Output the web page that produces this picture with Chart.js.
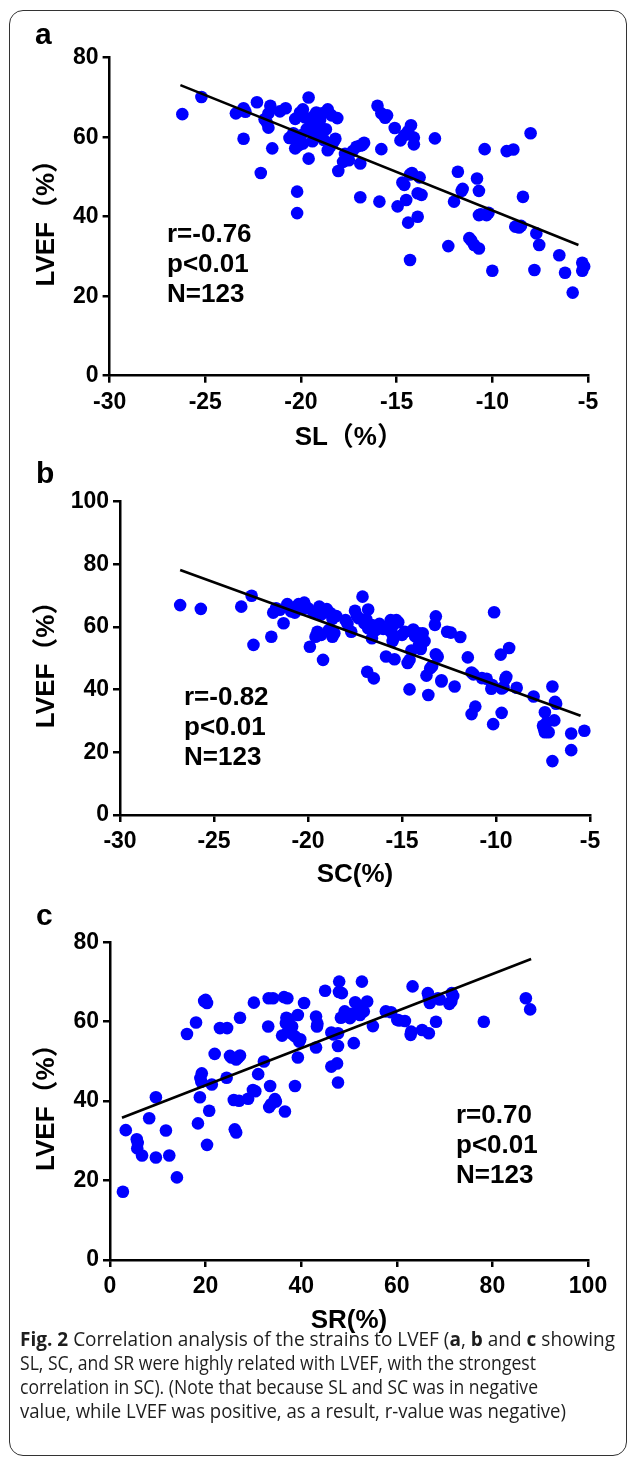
<!DOCTYPE html>
<html>
<head>
<meta charset="utf-8">
<script src="https://cdn.jsdelivr.net/npm/chart.js@4.4.1/dist/chart.umd.min.js"></script>
<style>
  html, body { margin: 0; padding: 0; background: #fff; }
  body { width: 627px; height: 1459px; position: relative; overflow: hidden; }
  canvas { position: absolute; left: 0; }
  #frame { position: absolute; left: 9px; top: 10px; width: 618px; height: 1446px; box-sizing: border-box;
           border: 1.5px solid #333; border-radius: 14px; }
  #caption { position: absolute; left: 20px; top: 1327px; font-family: "Open Sans", "Noto Sans", sans-serif;
             font-size: 20px; line-height: 24px; color: #1e1e1e; white-space: nowrap; }
  #caption div { transform-origin: 0 50%; }
</style>
</head>
<body>
<div id="frame"></div>
<canvas id="ca" width="627" height="460" style="top:0px"></canvas>
<canvas id="cb" width="627" height="440" style="top:460px"></canvas>
<canvas id="cc" width="627" height="452" style="top:890px"></canvas>
<div id="caption">
  <div><b>Fig. 2</b> Correlation analysis of the strains to LVEF (<b>a</b>, <b>b</b> and <b>c</b> showing</div>
  <div>SL, SC, and SR were highly related with LVEF, with the strongest</div>
  <div>correlation in SC). (Note that because SL and SC was in negative</div>
  <div>value, while LVEF was positive, as a result, r-value was negative)</div>
</div>
<script>
// ---------------- DATA ----------------
// Panel a: SL (%) vs LVEF (%)
const slLvef = [
  [-26.2,65.8],[-25.2,70.1],[-23.4,66.0],[-23.0,67.3],[-23.0,59.6],[-22.3,68.8],[-22.1,51.0],[-21.6,67.9],
  [-21.7,66.0],[-21.9,64.5],[-21.7,62.4],[-21.5,57.2],[-20.8,67.3],[-20.3,64.6],[-20.05,66.2],[-20.5,60.1],
  [-20.2,59.3],[-20.3,57.2],[-19.9,58.4],[-20.2,46.3],[-20.2,40.9],[-19.6,70.0],[-19.2,66.2],[-19.5,63.0],
  [-19.0,64.3],[-19.4,61.4],[-18.9,61.5],[-19.6,54.6],[-18.6,67.0],[-18.4,65.5],[-18.1,64.8],[-18.8,59.3],
  [-18.3,58.8],[-18.6,56.7],[-18.05,51.5],[-17.7,55.8],[-17.5,54.2],[-17.1,57.6],[-16.7,58.6],[-16.9,53.4],
  [-16.9,44.9],[-19.3,65.5],[-19.7,62.0],[-20.0,60.5],[-19.3,59.8],[-17.6,55.0],[-16.9,57.9],[-18.5,57.5],
  [-20.6,59.8],[-21.8,63.8],[-19.8,65.0],
  [-16.0,67.9],[-15.8,66.0],[-15.6,64.9],[-15.8,57.0],[-15.9,43.8],[-15.1,62.3],[-14.8,59.2],[-14.25,63.0],
  [-14.6,60.5],[-14.1,59.9],[-14.1,58.2],[-13.0,59.7],[-14.3,50.6],[-13.8,49.9],[-14.7,48.6],[-13.9,45.9],
  [-14.95,42.6],[-14.5,44.2],[-14.4,38.5],[-13.9,40.0],[-14.3,29.1],[-11.8,51.3],[-11.55,47.0],[-12.0,43.8],
  [-10.8,49.6],[-10.7,46.5],[-12.3,32.6],[-11.2,34.6],[-10.95,32.9],[-10.7,32.0],[-10.7,40.4],[-10.3,40.4],
  [-10.4,57.0],[-10.0,26.4],[-9.25,56.5],[-8.9,56.9],[-8.0,61.0],[-8.4,45.0],[-8.8,37.5],[-8.5,37.7],
  [-7.7,35.8],[-7.55,32.9],[-7.8,26.6],[-6.5,30.3],[-6.2,25.9],[-5.8,20.9],[-5.3,28.4],[-5.3,26.4],
  [-10.2,41.0],[-15.5,65.5],[-14.2,51.0],[-11.1,34.0],
  [-20.4,61.0],[-19.1,63.5],[-18.7,62.0],[-19.9,67.0],[-18.9,66.0],[-20.1,58.0],[-19.4,59.0],[-18.2,59.6],
  [-17.3,56.5],[-17.8,53.8],[-16.8,58.0],[-21.1,66.5],[-22.9,66.4],[-14.4,61.5],[-13.7,45.5],[-10.6,40.6],
  [-8.6,37.3],[-5.2,27.5],[-11.6,46.5],[-14.6,48.0]
];
const slFit = [[-26.3,73.1],[-5.5,32.9]];

// Panel b: SC (%) vs LVEF (%)
const scLvef = [
  [-26.8,67.0],[-25.7,65.8],[-23.55,66.5],[-23.0,70.0],[-22.9,54.3],[-21.95,56.9],[-21.85,64.6],[-21.7,66.0],
  [-21.3,61.2],[-21.1,67.3],[-20.7,64.6],[-20.5,67.3],[-20.2,67.8],[-20.3,65.7],[-19.9,53.7],[-19.7,64.6],
  [-19.4,66.5],[-19.0,65.7],[-18.8,64.4],[-18.7,62.6],[-19.5,58.5],[-19.6,56.9],[-19.2,49.5],[-18.9,59.0],
  [-18.7,56.9],[-18.0,62.2],[-17.7,58.5],[-17.5,65.2],[-17.1,69.7],[-16.8,65.6],[-17.3,62.8],[-17.0,61.2],
  [-16.8,59.6],[-16.6,60.6],[-16.6,56.4],[-16.85,45.7],[-16.5,43.6],[-16.3,59.6],[-16.0,59.4],[-15.6,62.2],
  [-15.3,62.2],[-15.5,60.3],[-15.4,56.9],[-15.5,55.5],[-15.85,50.6],[-15.4,49.7],[-14.85,58.5],[-14.4,59.2],
  [-14.1,58.0],[-13.9,58.0],[-14.1,54.2],[-14.5,52.5],[-14.7,48.5],[-14.6,40.1],[-13.6,38.3],[-13.7,44.5],
  [-13.5,46.8],[-13.2,51.3],[-13.2,63.4],[-13.25,60.7],[-12.9,42.6],[-12.4,58.2],[-11.9,56.8],[-12.2,41.0],
  [-11.5,50.3],[-11.2,44.9],[-11.3,32.2],[-11.1,34.6],[-10.75,43.7],[-10.25,40.3],[-10.1,64.7],[-10.15,29.0],
  [-9.75,51.2],[-9.7,40.4],[-9.45,44.1],[-9.3,53.3],[-9.7,32.6],[-8.9,40.6],[-8.0,37.8],[-7.4,32.8],
  [-7.5,28.5],[-7.4,26.4],[-7.2,26.4],[-7.0,41.0],[-6.86,36.1],[-6.9,30.2],[-7.0,17.2],[-6.0,26.0],
  [-6.0,20.7],[-5.3,26.9],
  [-20.9,65.0],[-20.6,66.5],[-19.3,64.0],[-18.5,63.5],[-19.3,57.5],[-17.9,61.0],[-17.4,63.5],[-16.9,62.5],
  [-16.2,61.0],[-15.7,59.0],[-15.2,61.5],[-15.0,57.5],[-14.3,57.0],[-13.8,55.5],[-14.6,49.5],[-13.4,47.5],
  [-12.6,58.5],[-11.3,45.5],[-10.5,43.5],[-9.6,40.8],[-7.45,27.5],[-7.3,29.5],[-6.8,35.5],[-15.5,57.5],
  [-16.4,59.0],[-18.6,58.0],[-20.0,66.0],[-21.5,65.5],[-13.1,50.5],[-10.2,41.5],[-9.5,43.5],[-12.9,43.0],
  [-14.0,53.0]
];
const scFit = [[-26.8,78.2],[-5.5,31.7]];

// Panel c: SR (%) vs LVEF (%)
const srLvef = [
  [2.7,17.2],[3.3,32.7],[5.6,30.4],[5.7,28.1],[6.7,26.3],[8.2,35.7],[9.6,41.0],[9.6,25.8],[11.7,32.6],
  [12.4,26.3],[14.0,20.8],[16.1,56.9],[18.0,59.8],[18.4,34.4],[18.8,41.0],[19.2,47.0],[19.1,44.9],[19.7,65.2],
  [20.3,64.7],[20.3,29.0],[20.75,37.6],[21.3,44.2],[21.9,51.9],[23.0,58.4],[24.5,58.4],[24.4,45.9],[25.1,51.4],
  [25.9,40.3],[26.1,32.9],[26.4,32.1],[26.4,50.5],[27.2,51.5],[27.2,61.0],[27.0,40.1],[28.9,40.6],[29.9,42.8],
  [30.1,64.8],[31.0,46.8],[32.2,50.0],[33.1,58.8],[33.3,38.5],[33.5,43.8],[33.2,65.9],[34.1,65.9],[34.7,39.9],
  [36.4,66.2],[37.1,65.9],[36.0,56.5],[36.6,37.4],[36.8,59.6],[37.4,60.6],[37.2,57.5],[38.1,58.8],[39.3,61.7],
  [38.7,43.8],[39.3,51.0],[38.7,56.3],[39.6,55.0],[40.6,64.7],[43.1,61.3],[43.3,58.8],[43.1,53.5],[45.0,67.8],
  [46.3,57.3],[46.3,48.7],[47.5,49.5],[47.7,53.9],[47.7,44.7],[47.95,70.1],[48.5,67.2],[47.7,57.1],[49.1,62.6],
  [50.2,60.9],[51.3,64.9],[51.0,54.6],[52.7,70.1],[52.3,61.7],[53.1,62.6],[53.8,65.1],[55.0,58.9],[57.7,62.6],
  [58.8,62.4],[60.1,60.5],[61.7,60.2],[62.9,56.7],[63.3,68.9],[65.3,57.9],[66.7,57.1],[66.5,67.2],[66.9,64.7],
  [68.6,65.9],[68.2,60.0],[71.5,67.2],[71.4,65.1],[78.2,60.0],[87.0,65.9],[87.9,63.1],
  [37.8,58.0],[36.9,61.0],[38.0,57.0],[47.9,67.5],[50.5,62.0],[52.0,64.0],[66.7,66.0],[69.0,65.6],[71.8,66.5],
  [25.4,51.0],[30.4,42.5],[33.7,39.2],[49.6,61.5],[20.0,65.5],[37.6,59.2],[46.8,56.8],[60.5,60.3],[34.5,40.5],
  [48.3,61.0],[63.0,57.5],[71.0,64.5],[5.8,29.5],[18.9,45.8],[26.8,51.0],[39.8,55.6],[43.4,59.5]
];
const srFit = [[2.5,35.8],[88.1,75.8]];

// Tick labels
const strainTicks = [-30, -25, -20, -15, -10, -5];
const srTicks = [0, 20, 40, 60, 80, 100];
const lvefTicks80 = [0, 20, 40, 60, 80];
const lvefTicks100 = [0, 20, 40, 60, 80, 100];

// Texts
const yTitle = 'LVEF（%）';
const xTitles = ['SL（%）', 'SC(%)', 'SR(%)'];
const panelLetters = ['a', 'b', 'c'];
const statsA = ['r=-0.76', 'p<0.01', 'N=123'];
const statsB = ['r=-0.82', 'p<0.01', 'N=123'];
const statsC = ['r=0.70', 'p<0.01', 'N=123'];

// ---------------- DRAWING ----------------
const FONT = "'Liberation Sans', Arial, 'Noto Sans CJK SC', sans-serif";

function textPlugin(letter, letterPos, stats, statsPos) {
  return {
    id: 'texts',
    afterDraw(chart) {
      const ctx = chart.ctx;
      ctx.save();
      ctx.fillStyle = '#000';
      ctx.textAlign = 'left';
      ctx.textBaseline = 'alphabetic';
      ctx.font = 'bold 30px ' + FONT;
      ctx.fillText(letter, letterPos[0], letterPos[1]);
      ctx.font = 'bold 26px ' + FONT;
      stats.forEach((s, i) => ctx.fillText(s, statsPos[0], statsPos[1] + i * 30));
      ctx.restore();
    }
  };
}

function makeChart(id, cfg) {
  const ticksFont = { family: FONT, size: 23, weight: 'bold' };
  const titleFont = { family: FONT, size: 26, weight: 'bold' };
  const axisCommon = {
    type: 'linear',
    grid: { display: true, drawOnChartArea: false, drawTicks: true, tickLength: 7, color: '#000', lineWidth: 2.5 },
    border: { display: true, color: '#000', width: 2.5 },
  };
  return new Chart(document.getElementById(id), {
    type: 'scatter',
    data: {
      datasets: [
        {
          type: 'line', data: cfg.fit.map(p => ({ x: p[0], y: p[1] })),
          borderColor: '#000', borderWidth: 2.6, pointRadius: 0, fill: false, order: 0, clip: false
        },
        {
          data: cfg.points.map(p => ({ x: p[0], y: p[1] })),
          backgroundColor: '#0000ff', borderWidth: 0, pointRadius: 6.3, order: 1, clip: false
        }
      ]
    },
    options: {
      responsive: false, animation: false,
      layout: { padding: cfg.padding },
      plugins: { legend: { display: false }, tooltip: { enabled: false } },
      scales: {
        x: Object.assign({}, axisCommon, {
          min: cfg.xTicks[0], max: cfg.xTicks[cfg.xTicks.length - 1],
          afterBuildTicks: s => { s.ticks = cfg.xTicks.map(v => ({ value: v })); },
          afterFit: s => { s.height = cfg.xH; },
          ticks: { font: ticksFont, color: '#000', padding: 6, maxRotation: 0, autoSkip: false },
          title: { display: true, text: cfg.xTitle, font: titleFont, color: '#000', padding: { top: 4, bottom: 4 } }
        }),
        y: Object.assign({}, axisCommon, {
          min: 0, max: cfg.yTicks[cfg.yTicks.length - 1],
          afterBuildTicks: s => { s.ticks = cfg.yTicks.map(v => ({ value: v })); },
          afterFit: s => { s.width = cfg.yW; },
          ticks: { font: ticksFont, color: '#000', padding: 4, autoSkip: false },
          title: { display: true, text: yTitle, font: titleFont, color: '#000', padding: { top: 4, bottom: 4 } }
        })
      }
    },
    plugins: [textPlugin(cfg.letter, cfg.letterPos, cfg.stats, cfg.statsPos)]
  });
}

// Panel a: chart area x 109.6..588, y 57.7..375.7 (canvas top 0)
makeChart('ca', {
  points: slLvef, fit: slFit, xTicks: strainTicks, yTicks: lvefTicks80, xTitle: xTitles[0],
  padding: { left: 27.4, top: 57.7, right: 39, bottom: 2.4 }, yW: 82.2, xH: 81.9,
  letter: panelLetters[0], letterPos: [35, 44], stats: statsA, statsPos: [167, 241.7]
});
// Panel b: chart area x 120..590, y 501.7..815 (canvas top 460)
makeChart('cb', {
  points: scLvef, fit: scFit, xTicks: strainTicks, yTicks: lvefTicks100, xTitle: xTitles[1],
  padding: { left: 27.4, top: 41.7, right: 37, bottom: 5.4 }, yW: 92.6, xH: 79.6,
  letter: panelLetters[1], letterPos: [36, 23.3], stats: statsB, statsPos: [184, 245]
});
// Panel c: chart area x 110..588, y 942.3..1260 (canvas top 890)
makeChart('cc', {
  points: srLvef, fit: srFit, xTicks: srTicks, yTicks: lvefTicks80, xTitle: xTitles[2],
  padding: { left: 27.4, top: 52.3, right: 39, bottom: 1.7 }, yW: 82.6, xH: 80.3,
  letter: panelLetters[2], letterPos: [36, 35], stats: statsC, statsPos: [456, 233.3]
});

// Fit caption lines to the reference widths
const capTargets = [595, 516, 518, 546];
document.querySelectorAll('#caption div').forEach((d, i) => {
  d.style.display = 'inline-block';
  const w = d.getBoundingClientRect().width;
  d.style.display = 'block';
  d.style.transform = 'scaleX(' + (capTargets[i] / w) + ')';
});
</script>
</body>
</html>
